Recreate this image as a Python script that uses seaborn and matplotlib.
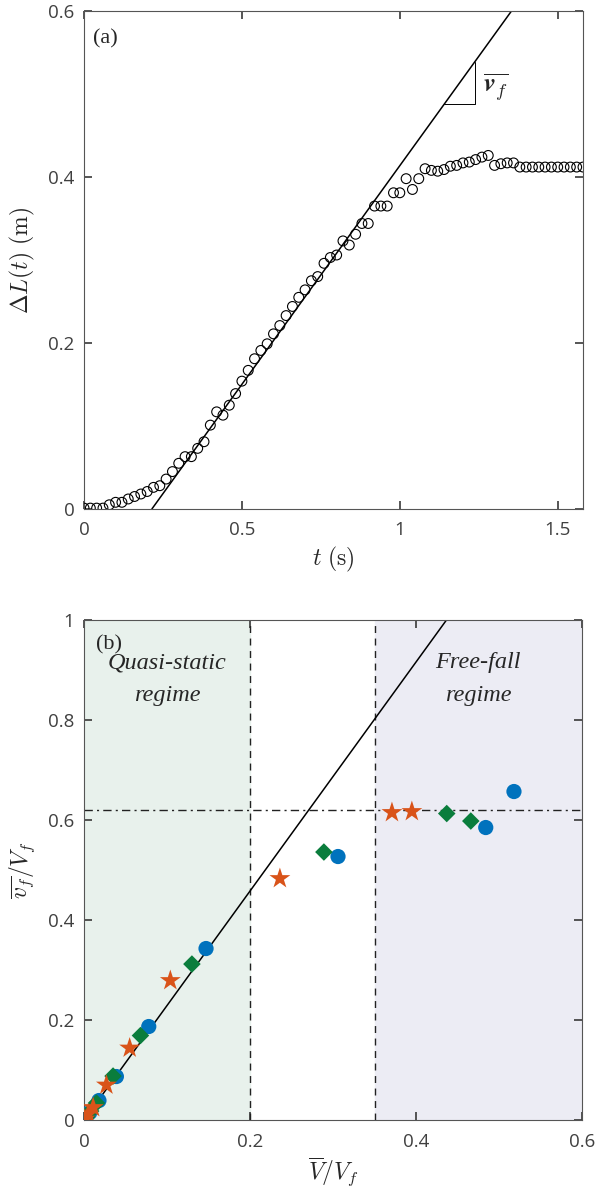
# %%
## Librerias

import numpy as np
import pandas as pd
import seaborn as sns
import matplotlib.pyplot as plt

# %%
## Datos del panel (a): elongacion medida en el tiempo

t_s = [0.00, 0.02, 0.04, 0.06, 0.08, 0.10, 0.12, 0.14, 0.16, 0.18,
       0.20, 0.22, 0.24, 0.26, 0.28, 0.30, 0.32, 0.34, 0.36, 0.38,
       0.40, 0.42, 0.44, 0.46, 0.48, 0.50, 0.52, 0.54, 0.56, 0.58,
       0.60, 0.62, 0.64, 0.66, 0.68, 0.70, 0.72, 0.74, 0.76, 0.78,
       0.80, 0.82, 0.84, 0.86, 0.88, 0.90, 0.92, 0.94, 0.96, 0.98,
       1.00, 1.02, 1.04, 1.06, 1.08, 1.10, 1.12, 1.14, 1.16, 1.18,
       1.20, 1.22, 1.24, 1.26, 1.28, 1.30, 1.32, 1.34, 1.36, 1.38,
       1.40, 1.42, 1.44, 1.46, 1.48, 1.50, 1.52, 1.54, 1.56, 1.58]
dL_m = [0.001, 0.001, 0.001, 0.001, 0.005, 0.008, 0.008, 0.012, 0.015, 0.018,
        0.021, 0.026, 0.028, 0.036, 0.045, 0.055, 0.063, 0.063, 0.073, 0.081,
        0.101, 0.117, 0.113, 0.125, 0.139, 0.154, 0.167, 0.181, 0.191, 0.199,
        0.211, 0.221, 0.233, 0.244, 0.255, 0.264, 0.275, 0.280, 0.296, 0.303,
        0.306, 0.323, 0.318, 0.331, 0.344, 0.344, 0.365, 0.365, 0.365, 0.381,
        0.381, 0.398, 0.385, 0.398, 0.410, 0.408, 0.407, 0.409, 0.413, 0.414,
        0.417, 0.418, 0.421, 0.424, 0.426, 0.414, 0.416, 0.417, 0.417, 0.412,
        0.412, 0.412, 0.412, 0.412, 0.412, 0.412, 0.412, 0.412, 0.412, 0.412]

# ajuste lineal (a)
fit_a_t0 = 0.215
fit_a_slope = 0.527

# %%
## Datos del panel (b)

azul_x = [0.002, 0.007, 0.018, 0.039, 0.078, 0.147, 0.306, 0.484, 0.518]
azul_y = [0.004, 0.015, 0.039, 0.087, 0.187, 0.343, 0.527, 0.585, 0.657]
verde_x = [0.003, 0.008, 0.015, 0.035, 0.068, 0.130, 0.289, 0.437, 0.466]
verde_y = [0.006, 0.018, 0.034, 0.088, 0.169, 0.312, 0.536, 0.613, 0.598]
naranja_x = [0.001, 0.005, 0.011, 0.027, 0.055, 0.104, 0.236, 0.371, 0.395]
naranja_y = [0.002, 0.012, 0.025, 0.070, 0.144, 0.279, 0.483, 0.615, 0.617]

fit_b_slope = 2.29
vf_ratio = 0.62
limite_quasi = 0.2
limite_libre = 0.35

# %%
## Estilo general

sns.set_theme(style='ticks')
plt.rcParams['font.family'] = ['Open Sans', 'DejaVu Sans']
plt.rcParams['mathtext.fontset'] = 'cm'
plt.rcParams['xtick.direction'] = 'in'
plt.rcParams['ytick.direction'] = 'in'
plt.rcParams['xtick.top'] = True
plt.rcParams['ytick.right'] = True
plt.rcParams['xtick.labelsize'] = 13.5
plt.rcParams['ytick.labelsize'] = 13.5
plt.rcParams['xtick.major.pad'] = 9
plt.rcParams['ytick.major.pad'] = 7
plt.rcParams['xtick.color'] = '#404040'
plt.rcParams['ytick.color'] = '#404040'
plt.rcParams['axes.edgecolor'] = '#555555'
plt.rcParams['axes.linewidth'] = 0.8

fig = plt.figure(figsize=(5.95, 11.88), dpi=100)
ax1 = fig.add_axes([0.1412, 0.5716, 0.8386, 0.4191])
ax2 = fig.add_axes([0.1412, 0.0572, 0.8370, 0.4209])

def fmt(v, pos):
    return f'{v:g}'

# %%
## Panel (a)

df_a = pd.DataFrame({'t': t_s, 'dL': dL_m})
sns.scatterplot(data=df_a, x='t', y='dL', ax=ax1, marker='o', s=50,
                facecolor='none', edgecolor='black', linewidth=0.8, zorder=3)

t_fit = [fit_a_t0, fit_a_t0 + 0.6 / fit_a_slope]
ax1.plot(t_fit, [0, 0.6], color='black', lw=1.1)

# triangulo de pendiente
tri_x0 = fit_a_t0 + 0.488 / fit_a_slope
tri_x1 = 1.237
ax1.plot([tri_x0, tri_x1, tri_x1], [0.488, 0.488, 0.488 + fit_a_slope * (tri_x1 - tri_x0)],
         color='black', lw=0.7)
ax1.text(1.262, 0.508, r'$\overline{\mathbfit{v}_f}$', fontsize=19, va='center')

ax1.text(0.03, 0.566, '(a)', fontsize=16, family='Liberation Serif', va='center')
ax1.set_xlim(0, 1.58)
ax1.set_ylim(0, 0.6)
ax1.set_xticks([0, 0.5, 1, 1.5])
ax1.set_yticks([0, 0.2, 0.4, 0.6])
ax1.xaxis.set_major_formatter(plt.FuncFormatter(fmt))
ax1.yaxis.set_major_formatter(plt.FuncFormatter(fmt))
ax1.set_xlabel(r'$t\ \mathrm{(s)}$', fontsize=17, labelpad=4)
ax1.set_ylabel(r'$\Delta L(t)\ \mathrm{(m)}$', fontsize=17, labelpad=8)

# %%
## Panel (b)

ax2.axvspan(0, limite_quasi, color='#e8f1ec', zorder=0)
ax2.axvspan(limite_libre, 0.6, color='#ececf4', zorder=0)
ax2.axvline(limite_quasi, color='#222222', ls=(0, (5, 4)), lw=1)
ax2.axvline(limite_libre, color='#222222', ls=(0, (5, 4)), lw=1)
ax2.axhline(vf_ratio, color='#222222', ls=(0, (6, 3, 1.5, 3)), lw=1)
ax2.plot([0, 1 / fit_b_slope], [0, 1], color='black', lw=1.1, zorder=2)

sns.scatterplot(x=azul_x, y=azul_y, ax=ax2, marker='o', s=120, color='#0072BD',
                edgecolor='none', zorder=3)
sns.scatterplot(x=verde_x, y=verde_y, ax=ax2, marker='D', s=80, color='#0a7d3c',
                edgecolor='none', zorder=3)
sns.scatterplot(x=naranja_x, y=naranja_y, ax=ax2, marker='*', s=250, color='#D95319',
                edgecolor='none', zorder=3)

ax2.text(0.015, 0.95, '(b)', fontsize=16, family='Liberation Serif', va='center')
ax2.text(0.1, 0.882, 'Quasi-static\nregime', fontsize=17.5, family='Liberation Serif',
         style='italic', ha='center', va='center', linespacing=1.75)
ax2.text(0.475, 0.882, 'Free-fall\nregime', fontsize=17.5, family='Liberation Serif',
         style='italic', ha='center', va='center', linespacing=1.75)

ax2.set_xlim(0, 0.6)
ax2.set_ylim(0, 1)
ax2.set_xticks([0, 0.2, 0.4, 0.6])
ax2.set_yticks([0, 0.2, 0.4, 0.6, 0.8, 1])
ax2.xaxis.set_major_formatter(plt.FuncFormatter(fmt))
ax2.yaxis.set_major_formatter(plt.FuncFormatter(fmt))
ax2.set_xlabel(r'$\overline{V}/V_f$', fontsize=17, labelpad=4)
ax2.set_ylabel(r'$\overline{v_f}/V_f$', fontsize=17, labelpad=8)

plt.savefig('out.png', dpi=100)
